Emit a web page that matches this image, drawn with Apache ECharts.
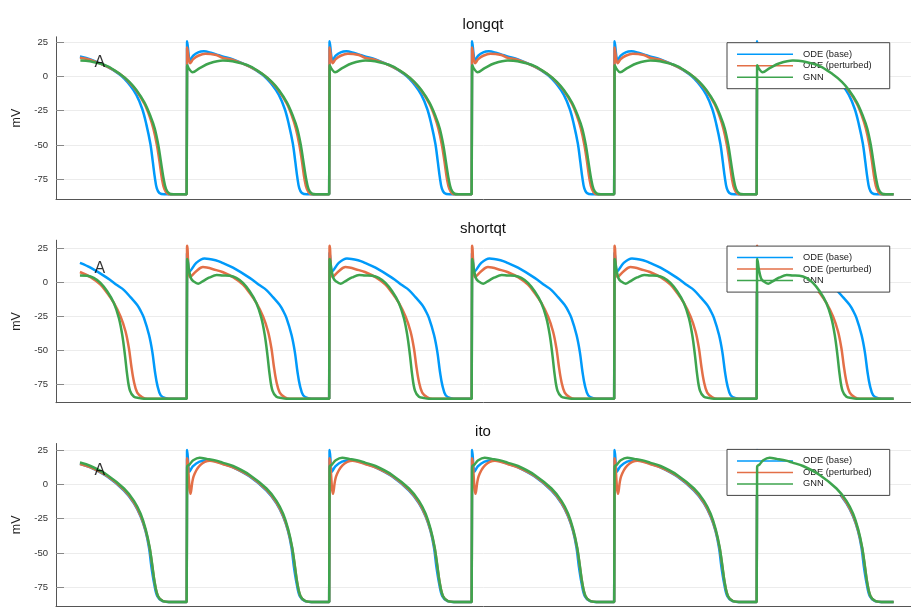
<!DOCTYPE html>
<html><head><meta charset="utf-8">
<script src="https://cdn.jsdelivr.net/npm/echarts@6/dist/echarts.min.js"></script>
<style>html,body{margin:0;padding:0;background:#fff}#c{width:911px;height:608px}</style>
</head><body><div id="c"></div>
<script>
// ---- data (time in ms, voltage in mV) ----
const panelTitles = ['longqt', 'shortqt', 'ito'];
const seriesNames = ['ODE (base)', 'ODE (perturbed)', 'GNN'];
const yTicks = [-75, -50, -25, 0, 25];
const beatOnsets = [-250, 750, 1750, 2750, 3750, 4750];
const traceStart = 0, traceEnd = 5710;

// one steady beat per trace: [phase ms, mV]
const longqtBase = [[0,-86],[1.5,24],[2,25.5],[23,11.5],[45,15],[80,17.5],[120,18.2],[175,17],[207,16],[250,14.5],[324,12.4],[441,7],[533,1],[559,-1.5],[597,-6],[646,-13.5],[688,-24],[716,-35],[744,-49],[761,-62],[776,-74],[789,-81.5],[807,-85],[842,-86],[960,-86],[999,-86]];
const longqtPert = [[0,-86],[1.5,19.5],[2,21],[23,9.5],[45,12.5],[80,15],[130,16.5],[207,15.5],[250,13.5],[324,12],[441,7],[533,1.5],[597,-4.5],[646,-10.5],[702,-20],[738,-29],[765,-38],[790,-50],[808,-62],[826,-75],[842,-82],[864,-85.5],[892,-86],[960,-86],[999,-86]];
const longqtGnn  = [[0,-86],[2,6.5],[3,8],[15,5.5],[40,3],[90,6],[160,9.5],[253,11.5],[320,11],[441,7.5],[533,1.5],[597,-4],[646,-10],[702,-19],[745,-29],[775,-38],[800,-50],[818,-62],[838,-75],[854,-82],[878,-85.5],[906,-86],[960,-86],[999,-86]];

const shortqtBase = [[0,-85.5],[1.5,20.5],[2,22],[23,8.5],[66,14.5],[124,17.8],[207,16.3],[250,14.5],[324,11],[441,3.5],[512,-2],[559,-5.5],[606,-10.9],[652,-16.5],[676,-20.8],[699,-26],[735,-38.6],[758,-51],[777,-66],[793,-75.5],[817,-83],[852,-85],[899,-85.5],[960,-85.5],[999,-85.5]];
const shortqtPert = [[0,-85.5],[1.5,25.7],[2,27.2],[23,4],[66,8.4],[113,11.4],[207,9.2],[250,7.8],[324,4],[394,-1.5],[441,-7.7],[488,-15],[535,-25],[570,-36],[594,-48.5],[610,-61],[629,-73],[652,-81],[688,-84.5],[723,-85.5],[960,-85.5],[999,-85.5]];
const shortqtGnn  = [[0,-85.5],[2,16],[3,17.4],[14,10],[30,3],[46,1],[80,-0.8],[120,1.5],[160,3.8],[210,5.5],[250,5.2],[300,5],[347,3.5],[394,-0.2],[441,-6.4],[488,-15],[523,-26],[547,-38.6],[566,-53.5],[582,-68.3],[601,-79.5],[629,-84],[664,-85],[699,-85.5],[960,-85.5],[999,-85.5]];

const itoBase = [[0,-86],[1.5,23.5],[2,25],[19,9.2],[42,13],[89,16.5],[160,17.7],[207,16.5],[250,15],[324,12.3],[441,5.6],[559,-4.6],[629,-13.8],[676,-23.5],[711,-34.4],[735,-46.5],[751,-59.8],[770,-71.9],[793,-81.6],[829,-85.2],[864,-85.7],[960,-85.7],[999,-85.7]];
const itoPert = [[0,-86],[1.5,17.5],[2,19],[26,-7],[47,5.5],[94,14],[162,17.2],[207,16.2],[250,14.8],[324,12.3],[441,6],[559,-4.1],[629,-13.3],[676,-23],[711,-33.7],[739,-46.5],[758,-59.8],[775,-71.9],[798,-81.6],[833,-85.2],[875,-85.7],[960,-85.7],[999,-85.7]];
const itoGnn  = [[0,-86],[2,11.5],[3,13],[20,14.5],[45,17.5],[90,19.3],[140,18.5],[207,17.2],[250,15.8],[324,13.3],[441,6.8],[559,-3.1],[629,-12.1],[676,-21.5],[711,-32.7],[739,-45.8],[758,-59.3],[775,-71.9],[798,-81.6],[833,-85.2],[875,-85.7],[960,-85.7],[999,-85.7]];

const annotation = {text: 'A', t: 140, v: 10};
const yRanges = [[-89.6, 28.8], [-88.4, 31.2], [-88.7, 29.7]];

// ---- build ----
const panels = [[longqtBase, longqtPert, longqtGnn],[shortqtBase, shortqtPert, shortqtGnn],[itoBase, itoPert, itoGnn]];
const colors = ['#009AFA', '#E36F47', '#3EA44E'];
function buildTrace(beat) {
  const out = [];
  beatOnsets.forEach(on => beat.forEach(([ph, v]) => {
    const t = on + ph;
    if (t >= traceStart && t <= traceEnd) out.push([t, v]);
  }));
  return out;
}
const tops = [36.8, 240.2, 443.5];
const H = 162.5;
const font = 'Liberation Sans, Arial, Helvetica, sans-serif';
const grid = [], xAxis = [], yAxis = [], series = [], title = [], legend = [];
panels.forEach((traces, p) => {
  grid.push({left: 56, right: 0, top: tops[p], height: H});
  title.push({text: panelTitles[p], left: 483, top: tops[p] - 19, textAlign: 'center', padding: 0,
    textStyle: {fontSize: 15, fontWeight: 'normal', color: '#111', fontFamily: font}});
  xAxis.push({type: 'value', gridIndex: p, min: -168, max: 5832,
    axisLabel: {show: false}, axisTick: {show: false}, splitLine: {show: false},
    axisLine: {show: true, onZero: false, lineStyle: {color: '#555', width: 1}}});
  yAxis.push({type: 'value', gridIndex: p, min: yRanges[p][0], max: yRanges[p][1],
    name: 'mV', nameLocation: 'middle', nameGap: 27,
    nameTextStyle: {fontSize: 12.5, color: '#222', fontFamily: font},
    axisLine: {show: true, onZero: false, lineStyle: {color: '#555', width: 1}},
    axisTick: {show: true, inside: true, length: 8, lineStyle: {color: '#888'}, customValues: yTicks},
    axisLabel: {customValues: yTicks, fontSize: 9.5, color: '#333', margin: 8, fontFamily: font},
    splitLine: {show: true, lineStyle: {color: '#ececec', width: 1}}});
  traces.forEach((beat, s) => {
    series.push({type: 'line', name: seriesNames[s], xAxisIndex: p, yAxisIndex: p,
      data: buildTrace(beat), showSymbol: false, symbol: 'none', z: 2 + s, smooth: 0.35,
      lineStyle: {width: 2.5, color: colors[s]}, itemStyle: {color: colors[s]}, animation: false});
  });
  series.push({type: 'scatter', name: 'annot' + p, xAxisIndex: p, yAxisIndex: p,
    data: [[annotation.t, annotation.v]], symbolSize: 1, itemStyle: {color: 'rgba(0,0,0,0)'}, silent: true, z: 10,
    label: {show: true, position: 'inside', formatter: annotation.text, fontSize: 16, color: '#000', fontFamily: font}});
  legend.push({data: seriesNames, orient: 'vertical', left: 727, top: tops[p] + 5.9,
    icon: 'rect', itemWidth: 56, itemHeight: 1.5, itemGap: 0.5,
    padding: [6, 18, 6, 10], backgroundColor: '#fff', borderColor: '#444', borderWidth: 1,
    selectedMode: false,
    textStyle: {fontSize: 9.3, color: '#222', lineHeight: 11, padding: [0, 0, 0, 5], fontFamily: font}});
});
const chart = echarts.init(document.getElementById('c'), null, {renderer: 'canvas'});
chart.setOption({animation: false, backgroundColor: '#fff', grid, xAxis, yAxis, series, title, legend});
</script></body></html>
